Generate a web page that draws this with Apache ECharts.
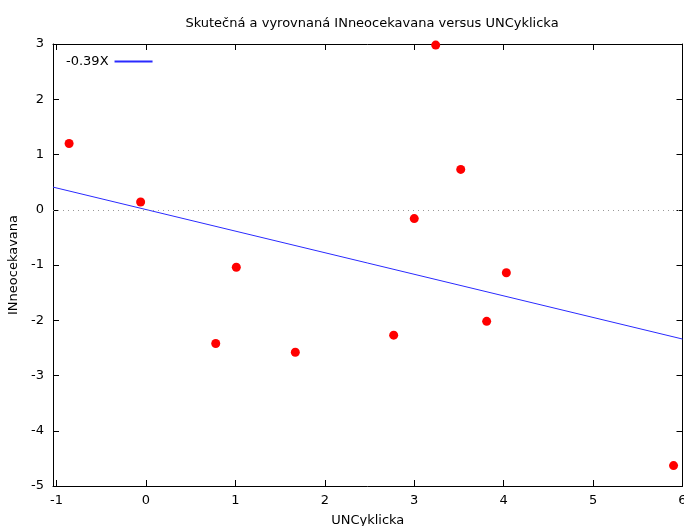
<!DOCTYPE html>
<html><head><meta charset="utf-8">
<script src="https://cdn.jsdelivr.net/npm/echarts@6/dist/echarts.min.js"></script>
<style>html,body{margin:0;padding:0;background:#fff}#c{width:684px;height:526px}</style>
</head><body><div id="c"></div>
<script>
const titleText = 'Skutečná a vyrovnaná INneocekavana versus UNCyklicka';
const xName = 'UNCyklicka';
const yName = 'INneocekavana';
const legendName = '-0.39X';
const xTicks = [-1, 0, 1, 2, 3, 4, 5, 6];
const yTicks = [-5, -4, -3, -2, -1, 0, 1, 2, 3];
const pointsX = [-0.86, -0.06, 0.78, 1.01, 1.67, 2.77, 3.00, 3.24, 3.52, 3.81, 4.03, 5.90];
const pointsY = [1.20, 0.14, -2.42, -1.04, -2.58, -2.27, -0.16, 2.98, 0.73, -2.02, -1.14, -4.63];
const lineX = [-1.04, 6];
const lineY = [0.41, -2.34];

const font = 'DejaVu Sans';
const fs = 13;
const chart = echarts.init(document.getElementById('c'));
const axisCommon = {
  type: 'value',
  axisLine: {show: true, onZero: false, lineStyle: {color: '#000', width: 1}},
  axisTick: {show: true, inside: true, length: 6, lineStyle: {color: '#000'}},
  splitLine: {show: false}
};
chart.setOption({
  animation: false,
  textStyle: {fontFamily: font},
  title: {text: titleText, left: 367, textAlign: 'center', top: 12,
    textStyle: {fontFamily: font, fontSize: fs, fontWeight: 'normal', color: '#000'}},
  legend: {show: true, left: 61, top: 50, align: 'right', itemWidth: 38, itemHeight: 2, itemGap: 0,
    data: [{name: legendName, icon: 'rect'}],
    textStyle: {fontFamily: font, fontSize: fs, color: '#000', padding: [0, 1, 0, 0]}},
  grid: {left: 53, right: 1.5, top: 44, bottom: 40, containLabel: false, outerBoundsMode: 'none'},
  xAxis: [
    Object.assign({}, axisCommon, {min: -1.04, max: 6, position: 'bottom',
      name: xName, nameLocation: 'middle', nameGap: 28,
      nameTextStyle: {fontFamily: font, fontSize: fs, color: '#000'},
      axisTick: Object.assign({}, axisCommon.axisTick, {customValues: xTicks}),
      axisLabel: {customValues: xTicks, margin: 8, fontFamily: font, fontSize: fs, color: '#000'}}),
    Object.assign({}, axisCommon, {min: -1.04, max: 6, position: 'top',
      axisTick: Object.assign({}, axisCommon.axisTick, {customValues: xTicks}),
      axisLabel: {show: false}})
  ],
  yAxis: [
    Object.assign({}, axisCommon, {min: -5, max: 3, interval: 1, position: 'left',
      name: yName, nameLocation: 'middle', nameGap: 28, nameRotate: 90,
      nameTextStyle: {fontFamily: font, fontSize: fs, color: '#000'},
      axisLabel: {margin: 9, fontFamily: font, fontSize: fs, color: '#000'}}),
    Object.assign({}, axisCommon, {min: -5, max: 3, interval: 1, position: 'right',
      axisLabel: {show: false}})
  ],
  series: [
    {
      name: legendName, type: 'line', xAxisIndex: 0, yAxisIndex: 0,
      data: lineX.map((x, i) => [x, lineY[i]]),
      symbol: 'none', lineStyle: {color: '#2a2aff', width: 1}, itemStyle: {color: '#2a2aff'},
      markLine: {silent: true, symbol: 'none', label: {show: false},
        lineStyle: {color: '#999', type: [1, 4], width: 1},
        data: [{yAxis: 0}]}
    },
    {
      name: 'points', type: 'scatter', xAxisIndex: 0, yAxisIndex: 0,
      data: pointsX.map((x, i) => [x, pointsY[i]]),
      symbol: 'circle', symbolSize: 9, itemStyle: {color: '#ff0000', opacity: 1}
    }
  ]
});
</script></body></html>
